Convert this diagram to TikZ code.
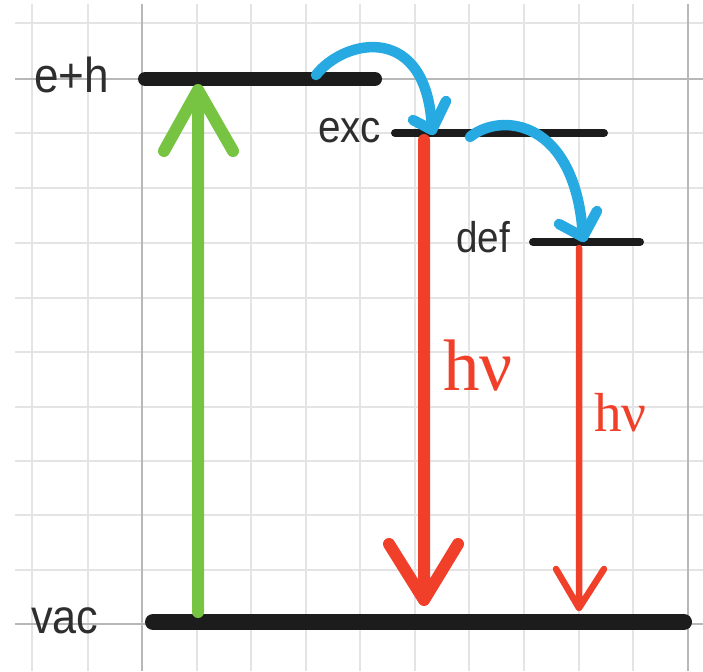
\documentclass[tikz,border=0pt]{standalone}
\usepackage{fontspec}
\setmainfont{Liberation Sans}
\newfontfamily\lblfont[FakeStretch=0.9]{Liberation Sans}
\newfontfamily\hvfont{Liberation Serif}
\definecolor{gridc}{HTML}{E4E4E4}
\definecolor{gridd}{HTML}{B8B8B8}
\definecolor{barc}{HTML}{1C1C1C}
\definecolor{txtc}{HTML}{2E2E2E}
\definecolor{greenc}{HTML}{76C442}
\definecolor{redc}{HTML}{F0402A}
\definecolor{bluec}{HTML}{27A9E1}
\tikzset{
  gridline/.style={draw=gridc, line width=1.5pt},
  griddark/.style={draw=gridd, line width=1.6pt},
  level/.style={draw=barc, line cap=round, line join=round},
  lbl/.style={text=txtc, inner sep=0pt, anchor=base west},
  hvlbl/.style={text=redc, inner sep=0pt, anchor=base west},
  greenarrow/.style={draw=greenc, line width=12pt, line cap=round, line join=round},
  redarrow/.style={draw=redc, line cap=round, line join=round},
  bluearrow/.style={draw=bluec, line width=10.5pt, line cap=round, line join=round},
}
\begin{document}
\begin{tikzpicture}[x=1pt,y=-1pt]
\useasboundingbox (0,0) rectangle (703,671);
\fill[white] (0,0) rectangle (703,671);
% grid
\foreach \gx in {32,88,197,251,306,360,415,469,524,579,633}
  \draw[gridline] (\gx,4) -- (\gx,671);
\foreach \gy in {23,133,188,243,298,352,407,461,515,570}
  \draw[gridline] (15,\gy) -- (703,\gy);
\draw[griddark] (142,4) -- (142,671);
\draw[griddark] (688,4) -- (688,671);
\draw[griddark] (15,79) -- (703,79);
\draw[griddark] (15,624) -- (703,624);

% level coordinates
\coordinate (ehW) at (145,79);
\coordinate (ehE) at (375,79);
\coordinate (excW) at (395,133);
\coordinate (excE) at (604,133);
\coordinate (defW) at (533,242);
\coordinate (defE) at (640,242);
\coordinate (vacW) at (153,622);
\coordinate (vacE) at (684,622);

% labels
\node[lbl, font=\lblfont\fontsize{49}{49}\selectfont] (leh) at (34,93) {e+h};
\node[lbl, font=\lblfont\fontsize{48}{48}\selectfont] (lvac) at (31,633) {vac};
\node[lbl, font=\lblfont\fontsize{45}{45}\selectfont] (lexc) at (318,143) {exc};
\node[lbl, font=\lblfont\fontsize{43}{43}\selectfont] (ldef) at (456,252) {def};
\node[hvlbl, font=\hvfont\fontsize{73}{73}\selectfont] (hv1) at (443,390) {hν};
\node[hvlbl, font=\hvfont\fontsize{55}{55}\selectfont] (hv2) at (594,431) {hν};

% levels
\draw[level, line width=14pt] (ehW) -- (ehE);
\draw[level, line width=8pt] (excW) -- (excE);
\draw[level, line width=8pt] (defW) -- (defE);
\draw[level, line width=16pt] (vacW) -- (vacE);

% green excitation arrow
\coordinate (gS) at (198,612);
\coordinate (gT) at (198,90);
\coordinate (gL) at (164,151);
\coordinate (gR) at (233,151);
\draw[greenarrow] (gS) -- (gT) (gL) -- (gT) -- (gR);

% red emission arrow 1
\coordinate (r1S) at (424,140);
\coordinate (r1T) at (424,600);
\coordinate (r1L) at (389,544);
\coordinate (r1R) at (458,544);
\draw[redarrow, line width=12pt] (r1S) -- (r1T) (r1L) -- (r1T) -- (r1R);

% red emission arrow 2
\coordinate (r2S) at (579,248);
\coordinate (r2T) at (579,608);
\coordinate (r2L) at (556,569);
\coordinate (r2R) at (604,569);
\draw[redarrow, line width=6.5pt] (r2S) -- (r2T) (r2L) -- (r2T) -- (r2R);

% blue relaxation arrows
\coordinate (b1S) at (316,75);
\coordinate (b1T) at (432,130);
\coordinate (b1L) at (413,120);
\coordinate (b1R) at (446,101);
\draw[bluearrow] (b1S) .. controls (345,38) and (428,22) .. (b1T);
\draw[bluearrow] (b1L) -- (b1T) -- (b1R);

\coordinate (b2S) at (470,137);
\coordinate (b2T) at (583,237);
\coordinate (b2L) at (559,224);
\coordinate (b2R) at (597,211);
\draw[bluearrow] (b2S) .. controls (500,112) and (576,118) .. (b2T);
\draw[bluearrow] (b2L) -- (b2T) -- (b2R);
\end{tikzpicture}
\end{document}
